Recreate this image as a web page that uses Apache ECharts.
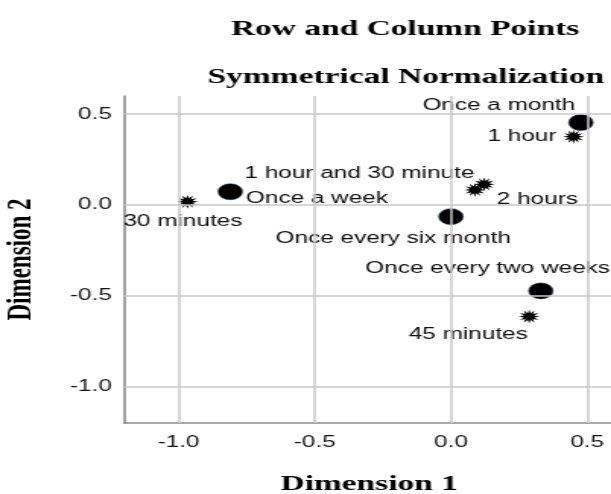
<!DOCTYPE html>
<html>
<head>
<meta charset="utf-8">
<script src="https://cdn.jsdelivr.net/npm/echarts@6/dist/echarts.min.js"></script>
<style>
  html, body { margin: 0; padding: 0; background: #ffffff; }
  #frame { width: 611px; height: 494px; overflow: hidden; position: relative; background: #ffffff; }
  /* the plot is laid out on a narrower canvas and widened horizontally */
  #chart { width: 402px; height: 494px; transform: scaleX(1.52); transform-origin: 0 0; }
</style>
</head>
<body>
<div id="frame"><div id="chart"></div></div>
<script>
// Row points (frequency categories)
const rowNames = ['Once a month', 'Once a week', 'Once every six month', 'Once every two weeks'];
const rowDim1 = [0.477, -0.81, 0.0, 0.33];
const rowDim2 = [0.454, 0.073, -0.064, -0.473];

// Column points (duration categories)
const colNames = ['1 hour', '1 hour and 30 minute', '2 hours', '30 minutes', '45 minutes'];
const colDim1 = [0.45, 0.088, 0.122, -0.967, 0.287];
const colDim2 = [0.376, 0.083, 0.114, 0.018, -0.614];

// Axis ticks
const tickValues = [-1.0, -0.5, 0.0, 0.5];

// Label placement next to each point (pixels)
const rowLabelOffsets = [[-54, -17], [57, 7], [-38, 22], [-35, -22]];
const colLabelOffsets = [[-34, 0], [-76, -16], [35, 15], [-3, 20], [-40, 18]];

// Burst-shaped symbol used for the column points
function burstPath(points, innerRatio) {
  const n = points * 2;
  let d = '';
  for (let i = 0; i < n; i++) {
    const r = (i % 2 === 0) ? 50 : 50 * innerRatio;
    const a = (Math.PI * 2 * i) / n - Math.PI / 2;
    const x = (50 + r * Math.cos(a)).toFixed(2);
    const y = (50 + r * Math.sin(a)).toFixed(2);
    d += (i === 0 ? 'M' : 'L') + x + ' ' + y + ' ';
  }
  return 'path://' + d + 'Z';
}

const sansFont = '"Liberation Sans", Arial, sans-serif';
const serifFont = '"Liberation Serif", "Times New Roman", serif';

const pointLabel = {
  show: true,
  position: 'inside',
  align: 'center',
  verticalAlign: 'middle',
  formatter: '{b}',
  fontFamily: sansFont,
  fontSize: 16,
  color: '#0d0d0d'
};

const chart = echarts.init(document.getElementById('chart'), null, { renderer: 'canvas' });

const axisCommon = {
  type: 'value',
  min: -1.2,
  max: 0.6,
  splitLine: { show: false },
  axisTick: { show: false },
  axisLine: { show: true, onZero: false, lineStyle: { color: '#8a8a8a', width: 1.6 } },
  nameLocation: 'middle',
  nameTextStyle: { fontFamily: serifFont, fontWeight: 'bold', fontSize: 22, color: '#000000' }
};

chart.setOption({
  animation: false,
  backgroundColor: '#ffffff',
  title: [
    {
      text: 'Row and Column Points',
      left: 261.5, top: 13, textAlign: 'center',
      textStyle: { fontFamily: serifFont, fontWeight: 'bold', fontSize: 22, color: '#000000' }
    },
    {
      text: 'Symmetrical Normalization',
      left: 262, top: 61, textAlign: 'center',
      textStyle: { fontFamily: serifFont, fontWeight: 'bold', fontSize: 22, color: '#000000' }
    }
  ],
  grid: { left: 81.6, top: 96, width: 322.6, height: 327, outerBoundsMode: 'none', containLabel: false },
  xAxis: Object.assign({}, axisCommon, {
    name: 'Dimension 1',
    nameGap: 50,
    axisLabel: {
      customValues: tickValues,
      formatter: v => v.toFixed(1),
      fontFamily: sansFont, fontSize: 16, color: '#161616', margin: 12
    }
  }),
  yAxis: Object.assign({}, axisCommon, {
    name: 'Dimension 2',
    nameRotate: 90,
    nameGap: 56,
    nameTextStyle: { fontFamily: serifFont, fontWeight: 'bold', fontSize: 23, color: '#000000' },
    axisLabel: {
      customValues: tickValues,
      formatter: v => v.toFixed(1),
      fontFamily: sansFont, fontSize: 16, color: '#161616', margin: 8,
      padding: [5, 0, 0, 0]
    }
  }),
  series: [
    {
      name: 'grid lines',
      type: 'scatter',
      data: [],
      z: 1,
      silent: true,
      markLine: {
        silent: true,
        symbol: ['none', 'none'],
        label: { show: false },
        emphasis: { disabled: true },
        lineStyle: { color: '#c8c8c8', width: 1.5, type: 'solid', opacity: 1 },
        data: tickValues.map(v => ({ xAxis: v })).concat(tickValues.map(v => ({ yAxis: v })))
      }
    },
    {
      name: 'Row',
      type: 'scatter',
      z: 3,
      symbol: 'circle',
      symbolSize: 16,
      itemStyle: { color: '#000000', opacity: 1, borderColor: '#24385a', borderWidth: 0.6 },
      label: pointLabel,
      data: rowNames.map((n, i) => ({
        name: n,
        value: [rowDim1[i], rowDim2[i]],
        label: { offset: rowLabelOffsets[i] }
      }))
    },
    {
      name: 'Column',
      type: 'scatter',
      z: 3,
      symbol: burstPath(12, 0.5),
      symbolSize: 14,
      itemStyle: { color: '#000000', opacity: 1 },
      label: pointLabel,
      data: colNames.map((n, i) => ({
        name: n,
        value: [colDim1[i], colDim2[i]],
        label: { offset: colLabelOffsets[i] }
      }))
    }
  ]
});
</script>
</body>
</html>
